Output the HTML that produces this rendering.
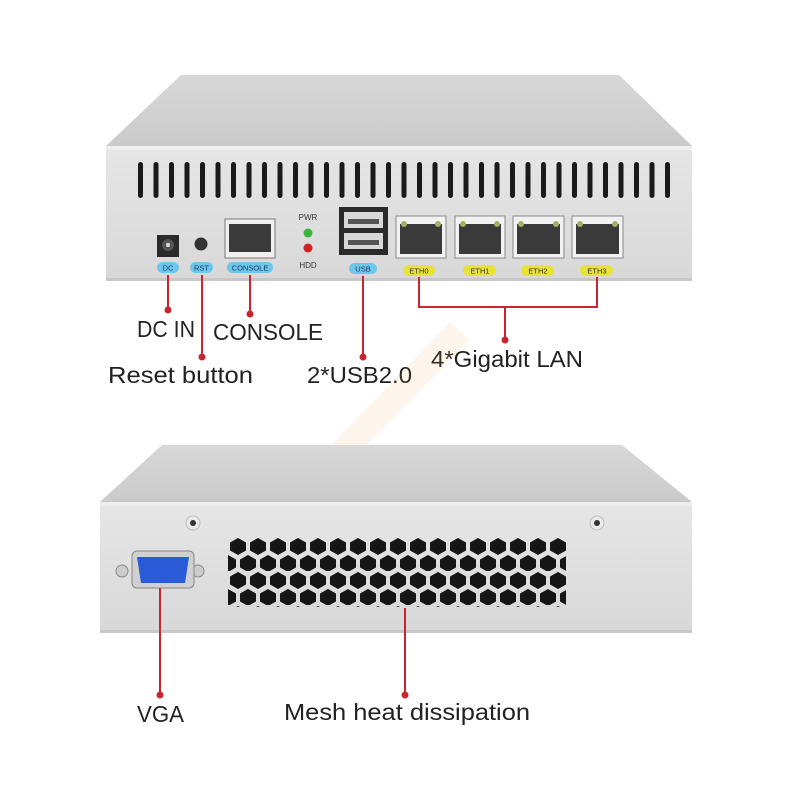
<!DOCTYPE html>
<html><head><meta charset="utf-8"><style>
html,body{margin:0;padding:0;background:#fff;}
svg{display:block;}
text{font-family:"Liberation Sans",sans-serif;}
</style></head><body>
<svg width="790" height="794" viewBox="0 0 790 794" xmlns="http://www.w3.org/2000/svg">
<defs>
<linearGradient id="top" x1="0" y1="0" x2="0" y2="1"><stop offset="0" stop-color="#d8d8d8"/><stop offset="1" stop-color="#cacaca"/></linearGradient>
<linearGradient id="front" x1="0" y1="0" x2="0" y2="1"><stop offset="0" stop-color="#e6e6e6"/><stop offset="1" stop-color="#d8d8d8"/></linearGradient>
<pattern id="slots" x="133" y="162" width="15.5" height="40" patternUnits="userSpaceOnUse">
<rect x="5" y="0" width="5" height="36" rx="2.5" fill="#1a1a1a"/></pattern>
<pattern id="hex" x="228" y="537" width="20" height="34" patternUnits="userSpaceOnUse">
<polygon points="10,1 18,5.5 18,13.5 10,18 2,13.5 2,5.5" fill="#161616"/>
<polygon points="0,18 8,22.5 8,30.5 0,35 -8,30.5 -8,22.5" fill="#161616"/>
<polygon points="20,18 28,22.5 28,30.5 20,35 12,30.5 12,22.5" fill="#161616"/>
</pattern>
</defs>

<polygon points="181,75 619,75 692,146 106,146" fill="url(#top)"/>
<rect x="106" y="146" width="586" height="4" fill="#eeeeee"/>
<rect x="106" y="150" width="586" height="130" fill="url(#front)"/>
<rect x="106" y="278" width="586" height="3" fill="#c8c8c8"/>
<rect x="130" y="162" width="540" height="36" fill="url(#slots)"/>

<rect x="157" y="235" width="22" height="22" fill="#2a2a2a"/><circle cx="168" cy="245" r="6" fill="#555"/><circle cx="168" cy="245" r="2" fill="#ddd"/>
<circle cx="201" cy="244" r="6.5" fill="#333"/>
<rect x="225" y="219" width="50" height="39" fill="#f0f0f0" stroke="#777"/>
<rect x="229" y="224" width="42" height="28" fill="#3a3a3a"/>
<text x="308" y="220" font-size="8" text-anchor="middle" fill="#333">PWR</text>
<circle cx="308" cy="233" r="4.5" fill="#3cb43c"/>
<circle cx="308" cy="248" r="4.5" fill="#d42020"/>
<text x="308" y="268" font-size="8" text-anchor="middle" fill="#333">HDD</text>
<rect x="339" y="207" width="49" height="48" fill="#2a2a2a"/>
<rect x="344" y="212" width="39" height="16" fill="#d8d8d8"/><rect x="348" y="219" width="31" height="5" fill="#555"/>
<rect x="344" y="233" width="39" height="16" fill="#d8d8d8"/><rect x="348" y="240" width="31" height="5" fill="#555"/>
<g fill="#f2f2f2" stroke="#888">
<rect x="396" y="216" width="50" height="42"/><rect x="455" y="216" width="50" height="42"/>
<rect x="513" y="216" width="51" height="42"/><rect x="572" y="216" width="51" height="42"/></g>
<g fill="#3a3a3a">
<rect x="400" y="224" width="42" height="30"/><rect x="459" y="224" width="42" height="30"/>
<rect x="517" y="224" width="43" height="30"/><rect x="576" y="224" width="43" height="30"/></g>
<g fill="#a8b060">
<circle cx="404" cy="224" r="3"/><circle cx="438" cy="224" r="3"/><circle cx="463" cy="224" r="3"/><circle cx="497" cy="224" r="3"/>
<circle cx="521" cy="224" r="3"/><circle cx="556" cy="224" r="3"/><circle cx="580" cy="224" r="3"/><circle cx="615" cy="224" r="3"/></g>
<g font-size="7.5" text-anchor="middle" fill="#1a3a6a">
<rect x="157" y="262" width="22" height="11" rx="5.5" fill="#6ec6ea"/><text x="168" y="270.5">DC</text>
<rect x="190" y="262" width="23" height="11" rx="5.5" fill="#6ec6ea"/><text x="201.5" y="270.5">RST</text>
<rect x="227" y="262" width="46" height="11" rx="5.5" fill="#6ec6ea"/><text x="250" y="270.5">CONSOLE</text>
<rect x="349" y="263" width="28" height="11" rx="5.5" fill="#6ec6ea"/><text x="363" y="271.5">USB</text>
</g>
<g font-size="7.5" text-anchor="middle" fill="#333">
<rect x="403" y="265" width="32" height="11" rx="5.5" fill="#e8e23a"/><text x="419" y="273.5">ETH0</text>
<rect x="463" y="265" width="33" height="11" rx="5.5" fill="#e8e23a"/><text x="480" y="273.5">ETH1</text>
<rect x="521" y="265" width="33" height="11" rx="5.5" fill="#e8e23a"/><text x="538" y="273.5">ETH2</text>
<rect x="580" y="265" width="33" height="11" rx="5.5" fill="#e8e23a"/><text x="597" y="273.5">ETH3</text>
</g>
<g stroke="#c8262e" stroke-width="2" fill="none">
<line x1="168" y1="275" x2="168" y2="309"/><line x1="202" y1="275" x2="202" y2="357"/>
<line x1="250" y1="275" x2="250" y2="314"/><line x1="363" y1="276" x2="363" y2="357"/>
<polyline points="419,277 419,307 597,307 597,277"/><line x1="505" y1="307" x2="505" y2="340"/>
</g>
<g fill="#c8262e"><circle cx="168" cy="310" r="3.5"/><circle cx="202" cy="357" r="3.5"/><circle cx="250" cy="314" r="3.5"/><circle cx="363" cy="357" r="3.5"/><circle cx="505" cy="340" r="3.5"/></g>
<g font-size="23" fill="#222">
<text x="137" y="337" textLength="58" lengthAdjust="spacingAndGlyphs">DC IN</text>
<text x="213" y="340" textLength="110" lengthAdjust="spacingAndGlyphs">CONSOLE</text>
<text x="108" y="383" textLength="145" lengthAdjust="spacingAndGlyphs">Reset button</text>
<text x="307" y="383" textLength="105" lengthAdjust="spacingAndGlyphs">2*USB2.0</text>
<text x="431" y="367" textLength="152" lengthAdjust="spacingAndGlyphs">4*Gigabit LAN</text>
</g>

<polygon points="322,455 450,322 470,340 340,472" fill="#f5a050" opacity="0.1"/>

<polygon points="162,445 622,445 692,502 100,502" fill="url(#top)"/>
<rect x="100" y="502" width="592" height="4" fill="#eeeeee"/>
<rect x="100" y="506" width="592" height="126" fill="url(#front)"/>
<rect x="100" y="630" width="592" height="3" fill="#c8c8c8"/>
<circle cx="193" cy="523" r="7" fill="#eaeaea" stroke="#bbb"/><circle cx="193" cy="523" r="3" fill="#333"/>
<circle cx="597" cy="523" r="7" fill="#eaeaea" stroke="#bbb"/><circle cx="597" cy="523" r="3" fill="#333"/>
<circle cx="122" cy="571" r="6" fill="#ccc" stroke="#888"/><circle cx="198" cy="571" r="6" fill="#ccc" stroke="#888"/>
<rect x="132" y="551" width="62" height="37" rx="5" fill="#d0d0d0" stroke="#888"/>
<polygon points="137,557 189,557 185,583 141,583" fill="#2a5ad8"/>
<rect x="228" y="537" width="338" height="70" fill="url(#hex)"/>
<g stroke="#c8262e" stroke-width="2"><line x1="160" y1="588" x2="160" y2="695"/><line x1="405" y1="608" x2="405" y2="695"/></g>
<g fill="#c8262e"><circle cx="160" cy="695" r="3.5"/><circle cx="405" cy="695" r="3.5"/></g>
<g font-size="23" fill="#222">
<text x="137" y="722" textLength="47" lengthAdjust="spacingAndGlyphs">VGA</text>
<text x="284" y="720" textLength="246" lengthAdjust="spacingAndGlyphs">Mesh heat dissipation</text></g>
</svg>
</body></html>
